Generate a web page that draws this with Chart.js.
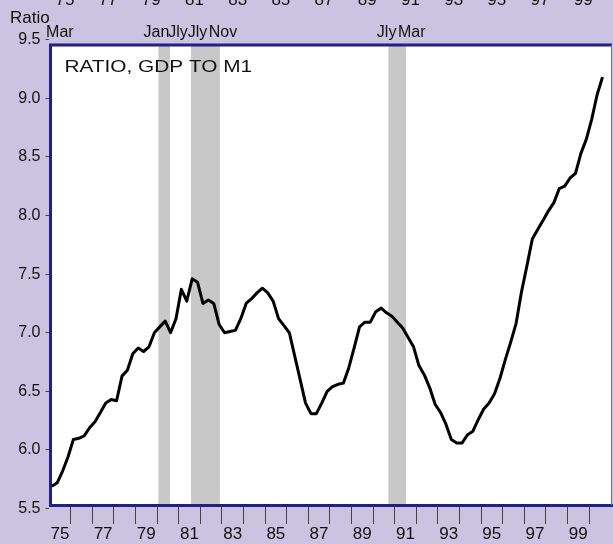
<!DOCTYPE html>
<html>
<head>
<meta charset="utf-8">
<script src="https://cdn.jsdelivr.net/npm/chart.js@4.4.1/dist/chart.umd.min.js"></script>
<style>
html, body { margin: 0; padding: 0; background: #cbc3df; }
canvas { display: block; }
</style>
</head>
<body>
<canvas id="ratioChart" width="613" height="544"></canvas>
<script>
// quarterly ratio of GDP to M1, 1975Q1 .. 2000Q3
const firstYear = 1975
const ratio = [
    5.69, 5.72, 5.82, 5.94,
    6.09, 6.10, 6.12, 6.19,
    6.24, 6.32, 6.40, 6.43,
    6.42, 6.63, 6.68, 6.82,
    6.87, 6.84, 6.88, 7.00,
    7.05, 7.10, 7.00, 7.12,
    7.37, 7.27, 7.46, 7.43,
    7.25, 7.28, 7.25, 7.07,
    7.00, 7.01, 7.02, 7.12,
    7.25, 7.29, 7.34, 7.38,
    7.34, 7.27, 7.12, 7.06,
    7.00, 6.80, 6.60, 6.40,
    6.31, 6.31, 6.40, 6.50,
    6.54, 6.56, 6.57, 6.70,
    6.87, 7.05, 7.09, 7.09,
    7.18, 7.21, 7.17, 7.14,
    7.09, 7.04, 6.96, 6.88,
    6.72, 6.64, 6.53, 6.39,
    6.32, 6.22, 6.09, 6.06,
    6.06, 6.13, 6.16, 6.26,
    6.35, 6.40, 6.48, 6.61,
    6.77, 6.92, 7.08, 7.35,
    7.57, 7.80, 7.88, 7.96,
    8.04, 8.11, 8.23, 8.25,
    8.32, 8.36, 8.53, 8.65,
    8.82, 9.03, 9.18
]
const quarterDates = ratio.map((value, index) => firstYear + (index + 0.5) / 4)

// shaded recessions (decimal years) and the month names printed above the plot
const recessions = [[1980.06, 1980.60], [1981.57, 1982.91], [1990.71, 1991.53]]
const recessionLabels = ['Mar', 'Jan', 'Jly', 'Jly', 'Nov', 'Jly', 'Mar']
const recessionLabelDates = [1975.50, 1979.97, 1980.97, 1981.87, 1983.05, 1990.63, 1991.79]

// year boundary tick marks and the mid-year labels between them
const yearTicks = [1976, 1977, 1978, 1979, 1980, 1981, 1982, 1983, 1984, 1985, 1986, 1987, 1988,
    1989, 1990, 1991, 1992, 1993, 1994, 1995, 1996, 1997, 1998, 1999, 2000]
const yearLabelDates = [1975.5, 1977.5, 1979.5, 1981.5, 1983.5, 1985.5, 1987.5, 1989.5, 1991.5,
    1993.5, 1995.5, 1997.5, 1999.5]
const yTicks = [5.5, 6.0, 6.5, 7.0, 7.5, 8.0, 8.5, 9.0, 9.5]

const fontFamily = "'Liberation Sans', Arial, sans-serif"
const navy = '#20208c'
const textColor = '#111'

const backdrop = {
    id: 'backdrop',
    beforeDraw(chart) {
        const { ctx, chartArea: a } = chart
        const x = chart.scales.x
        ctx.save()
        ctx.fillStyle = '#cbc3df'
        ctx.fillRect(0, 0, chart.width, chart.height)
        ctx.fillStyle = '#ffffff'
        ctx.fillRect(a.left, a.top, a.right - a.left, a.bottom - a.top)
        ctx.fillStyle = '#c8c8c8'
        recessions.forEach(([start, end]) => {
            const x0 = x.getPixelForValue(start)
            ctx.fillRect(x0, a.top, x.getPixelForValue(end) - x0, a.bottom - a.top)
        })
        ctx.restore()
    },
    afterDatasetsDraw(chart) {
        const { ctx, chartArea: a } = chart
        const x = chart.scales.x
        ctx.save()
        // top and right frame
        ctx.strokeStyle = navy
        ctx.lineWidth = 3
        ctx.beginPath()
        ctx.moveTo(a.left - 1.5, a.top)
        ctx.lineTo(a.right, a.top)
        ctx.stroke()
        ctx.strokeStyle = '#6a6ab8'
        ctx.lineWidth = 1
        ctx.beginPath()
        ctx.moveTo(a.right - 0.5, a.top)
        ctx.lineTo(a.right - 0.5, a.bottom)
        ctx.stroke()

        ctx.fillStyle = textColor
        ctx.textBaseline = 'alphabetic'
        ctx.font = '16px ' + fontFamily

        // month labels of the recessions
        ctx.textAlign = 'center'
        recessionLabels.forEach((label, i) => {
            ctx.fillText(label, x.getPixelForValue(recessionLabelDates[i]), 37)
        })

        // year labels of the panel above, cut by the top edge
        ctx.font = '17px ' + fontFamily
        yearLabelDates.forEach(d => {
            ctx.fillText(String(Math.floor(d)).slice(2), x.getPixelForValue(d) + 5, 5)
        })

        // axis unit
        ctx.textAlign = 'left'
        ctx.fillText('Ratio', 10, 23)

        // series title, drawn a little wide like the original
        ctx.font = '16px ' + fontFamily
        ctx.translate(a.left + 14, 72)
        ctx.scale(1.3, 1)
        ctx.fillText('RATIO, GDP TO M1', 0, 0)
        ctx.restore()
    }
}

const ctx = document.getElementById('ratioChart').getContext('2d')
const chart = new Chart(ctx, {
    type: 'line',
    data: {
        datasets: [{
            data: quarterDates.map((d, i) => ({ x: d, y: ratio[i] })),
            borderColor: '#000',
            borderWidth: 3,
            borderJoinStyle: 'round',
            pointRadius: 0,
            tension: 0,
            fill: false
        }]
    },
    options: {
        responsive: false,
        animation: false,
        layout: { padding: { left: 0, right: 1, top: 45, bottom: 0 } },
        plugins: {
            legend: { display: false },
            tooltip: { enabled: false }
        },
        scales: {
            x: {
                type: 'linear',
                min: 1975.065,
                max: 2001.065,
                afterBuildTicks: (scale) => {
                    scale.ticks = yearTicks.concat(yearLabelDates).sort((a, b) => a - b).map(v => ({ value: v }))
                },
                afterFit: (scale) => { scale.height = 39 },
                ticks: {
                    autoSkip: false,
                    maxRotation: 0,
                    minRotation: 0,
                    padding: 0,
                    color: textColor,
                    font: { family: fontFamily, size: 17 },
                    callback: (value) => yearLabelDates.includes(value) ? String(Math.floor(value)).slice(2) : ''
                },
                grid: {
                    drawOnChartArea: false,
                    tickLength: 19,
                    lineWidth: 1,
                    color: (c) => (c.tick && Number.isInteger(c.tick.value)) ? '#444' : 'rgba(0,0,0,0)'
                },
                border: { color: navy, width: 3 }
            },
            y: {
                min: 5.5307,
                max: 9.4543,
                afterBuildTicks: (scale) => {
                    scale.ticks = yTicks.map(v => ({ value: v }))
                },
                afterFit: (scale) => { scale.width = 50.5 },
                ticks: {
                    padding: 5,
                    color: textColor,
                    font: { family: fontFamily, size: 16 },
                    callback: (value) => value.toFixed(1)
                },
                grid: {
                    drawOnChartArea: false,
                    tickLength: 5,
                    lineWidth: 1,
                    color: '#444'
                },
                border: { color: navy, width: 3 }
            }
        }
    },
    plugins: [backdrop]
})
</script>
</body>
</html>
